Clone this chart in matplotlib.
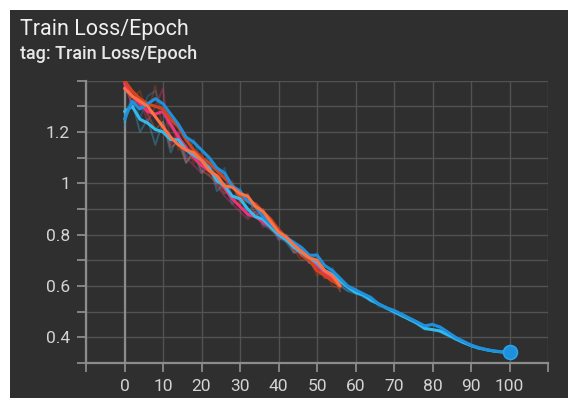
import numpy as np
import matplotlib
matplotlib.use("Agg")
import matplotlib.pyplot as plt
from matplotlib.patches import Rectangle

plt.rcParams["font.family"] = ["Roboto", "DejaVu Sans"]

# epochs
ep_long = list(range(0, 101, 2))
ep_short = list(range(0, 57, 2))

# smoothed curves
blue = [1.25, 1.32, 1.29, 1.31, 1.33, 1.31, 1.27, 1.23, 1.18, 1.16,
        1.13, 1.10, 1.06, 1.04, 0.99, 0.97, 0.93, 0.91, 0.87, 0.84,
        0.81, 0.79, 0.77, 0.75, 0.72, 0.72, 0.68, 0.66, 0.63, 0.60,
        0.585, 0.57, 0.555, 0.53, 0.515, 0.505, 0.49, 0.475, 0.46, 0.445,
        0.45, 0.44, 0.42, 0.40, 0.385, 0.37, 0.36, 0.352, 0.347, 0.344, 0.342]
cyan = [1.28, 1.30, 1.25, 1.235, 1.21, 1.20, 1.17, 1.17, 1.13, 1.11,
        1.09, 1.06, 1.01, 0.99, 0.95, 0.94, 0.90, 0.87, 0.86, 0.83,
        0.80, 0.78, 0.75, 0.73, 0.71, 0.69, 0.66, 0.645, 0.62, 0.595,
        0.575, 0.565, 0.545, 0.53, 0.515, 0.50, 0.485, 0.47, 0.455, 0.435,
        0.43, 0.425, 0.41, 0.395, 0.38, 0.368, 0.358, 0.352, 0.346, 0.343, 0.341]
orange = [1.37, 1.34, 1.32, 1.30, 1.26, 1.22, 1.18, 1.15, 1.13, 1.12,
          1.09, 1.05, 1.03, 0.99, 0.985, 0.96, 0.95, 0.91, 0.89, 0.85,
          0.81, 0.79, 0.76, 0.735, 0.71, 0.70, 0.66, 0.64, 0.60]
red = [1.40, 1.36, 1.33, 1.31, 1.30, 1.29, 1.25, 1.22, 1.17, 1.13,
       1.10, 1.08, 1.05, 1.02, 0.99, 0.95, 0.93, 0.92, 0.89, 0.86,
       0.82, 0.79, 0.76, 0.72, 0.70, 0.66, 0.64, 0.62, 0.60]
pink = [1.39, 1.34, 1.31, 1.28, 1.27, 1.28, 1.23, 1.18, 1.14, 1.10,
        1.07, 1.05, 1.02, 0.98, 0.94, 0.91, 0.88, 0.87, 0.85, 0.83,
        0.80, 0.78, 0.755, 0.73, 0.70, 0.68, 0.65, 0.63, 0.605]

# raw (unsmoothed) curves, drawn faint
blue_raw = [1.22, 1.36, 1.25, 1.34, 1.36, 1.27, 1.22, 1.18, 1.10, 1.17,
            1.08, 1.10, 1.00, 1.06, 0.94, 0.98, 0.89, 0.92, 0.84, 0.85,
            0.78, 0.80, 0.76, 0.73, 0.69, 0.73, 0.65, 0.67, 0.61, 0.58,
            0.59, 0.555, 0.56, 0.52, 0.52, 0.49, 0.495, 0.465, 0.46, 0.435,
            0.455, 0.43, 0.42, 0.39, 0.385, 0.365, 0.36, 0.348, 0.346, 0.342, 0.341]
cyan_raw = [1.24, 1.32, 1.20, 1.25, 1.15, 1.24, 1.12, 1.19, 1.08, 1.12,
            1.04, 1.08, 0.97, 1.00, 0.92, 0.96, 0.87, 0.89, 0.84, 0.82,
            0.79, 0.77, 0.73, 0.74, 0.69, 0.70, 0.64, 0.66, 0.60, 0.58,
            0.57, 0.56, 0.54, 0.53, 0.51, 0.50, 0.48, 0.47, 0.45, 0.43,
            0.43, 0.42, 0.405, 0.39, 0.378, 0.366, 0.356, 0.35, 0.345, 0.342, 0.341]
orange_raw = [1.40, 1.30, 1.33, 1.27, 1.21, 1.24, 1.14, 1.16, 1.08, 1.13,
              1.05, 1.03, 1.00, 0.96, 1.00, 0.93, 0.96, 0.87, 0.90, 0.82,
              0.80, 0.80, 0.73, 0.74, 0.69, 0.71, 0.63, 0.65, 0.58]
red_raw = [1.41, 1.33, 1.36, 1.27, 1.38, 1.20, 1.27, 1.13, 1.15, 1.08,
           1.12, 1.03, 1.06, 0.98, 1.01, 0.92, 0.95, 0.90, 0.87, 0.84,
           0.80, 0.78, 0.74, 0.70, 0.71, 0.64, 0.66, 0.60, 0.59]
pink_raw = [1.38, 1.31, 1.33, 1.24, 1.30, 1.37, 1.15, 1.20, 1.10, 1.07,
            1.04, 1.06, 0.99, 0.95, 0.92, 0.89, 0.86, 0.89, 0.83, 0.84,
            0.78, 0.79, 0.74, 0.72, 0.69, 0.68, 0.64, 0.62, 0.60]

x_ticks = list(range(-10, 111, 10))
x_labels = ["" if t < 0 or t > 100 else str(t) for t in x_ticks]
y_major = [0.4, 0.6, 0.8, 1.0, 1.2]
y_labels = ["0.4", "0.6", "0.8", "1", "1.2"]
y_minor = [0.3, 0.5, 0.7, 0.9, 1.1, 1.3, 1.4]

bg = "#2f2f2f"
grid_c = "#525252"
axis_c = "#8c8c8c"
text_c = "#d4d4d4"

fig = plt.figure(figsize=(5.68, 3.98), dpi=100)
fig.patch.set_facecolor("white")
fig.patches.append(Rectangle((10 / 568, 0), 1 - 10 / 568, 388 / 398,
                             transform=fig.transFigure, facecolor=bg,
                             edgecolor="none", zorder=-1))

ax = fig.add_axes([86 / 568, 35 / 398, 462 / 568, 282.3 / 398])
ax.set_zorder(1)
ax.set_facecolor(bg)

ax.set_xlim(-10, 110)
ax.set_ylim(0.3, 1.4)

for t in x_ticks:
    ax.axvline(t, color=grid_c, lw=1.0, zorder=1)
for t in y_major + y_minor:
    ax.axhline(t, color=grid_c, lw=1.0, zorder=1)
ax.axvline(0, color=axis_c, lw=1.6, zorder=1.5)

raw = [(ep_long, blue_raw, "#1e90dc"), (ep_long, cyan_raw, "#33bbee"),
       (ep_short, orange_raw, "#ff7043"), (ep_short, red_raw, "#d4441c"),
       (ep_short, pink_raw, "#ee3377")]
for xs, ys, c in raw:
    ax.plot(xs, ys, color=c, lw=1.4, alpha=0.32, zorder=2)

runs = [(ep_short, pink, "#ee3377"), (ep_short, red, "#d4441c"),
        (ep_long, cyan, "#33bbee"), (ep_long, blue, "#1e90dc"),
        (ep_short, orange, "#ff7043")]
for xs, ys, c in runs:
    ax.plot(xs, ys, color=c, lw=2.2, solid_joinstyle="round",
            solid_capstyle="round", zorder=3)

ax.plot(ep_long[-1], blue[-1], "o", ms=10, color="#1e90dc",
        markeredgecolor="#2aa2ea", markeredgewidth=1.2, zorder=4)

for side in ["top", "right"]:
    ax.spines[side].set_visible(False)
for side in ["left", "bottom"]:
    ax.spines[side].set_color(axis_c)
    ax.spines[side].set_linewidth(1.6)

ax.set_xticks(x_ticks)
ax.set_xticklabels(x_labels)
ax.set_yticks(y_major)
ax.set_yticklabels(y_labels)
ax.set_yticks(y_minor, minor=True)
ax.tick_params(axis="both", which="both", colors=axis_c, labelcolor=text_c,
               length=6.5, width=1.3, labelsize=12.5)
ax.tick_params(axis="x", pad=5)
ax.tick_params(axis="y", pad=5)

fig.text(20 / 568, 1 - 35 / 398, "Train Loss/Epoch", color="#f0f0f0",
         fontsize=15.5, va="baseline", ha="left")
fig.text(20 / 568, 1 - 59 / 398, "tag: Train Loss/Epoch", color="#e8e8e8",
         fontsize=13, fontweight="medium", va="baseline", ha="left")

fig.savefig("out.png", dpi=100, facecolor=fig.get_facecolor())
